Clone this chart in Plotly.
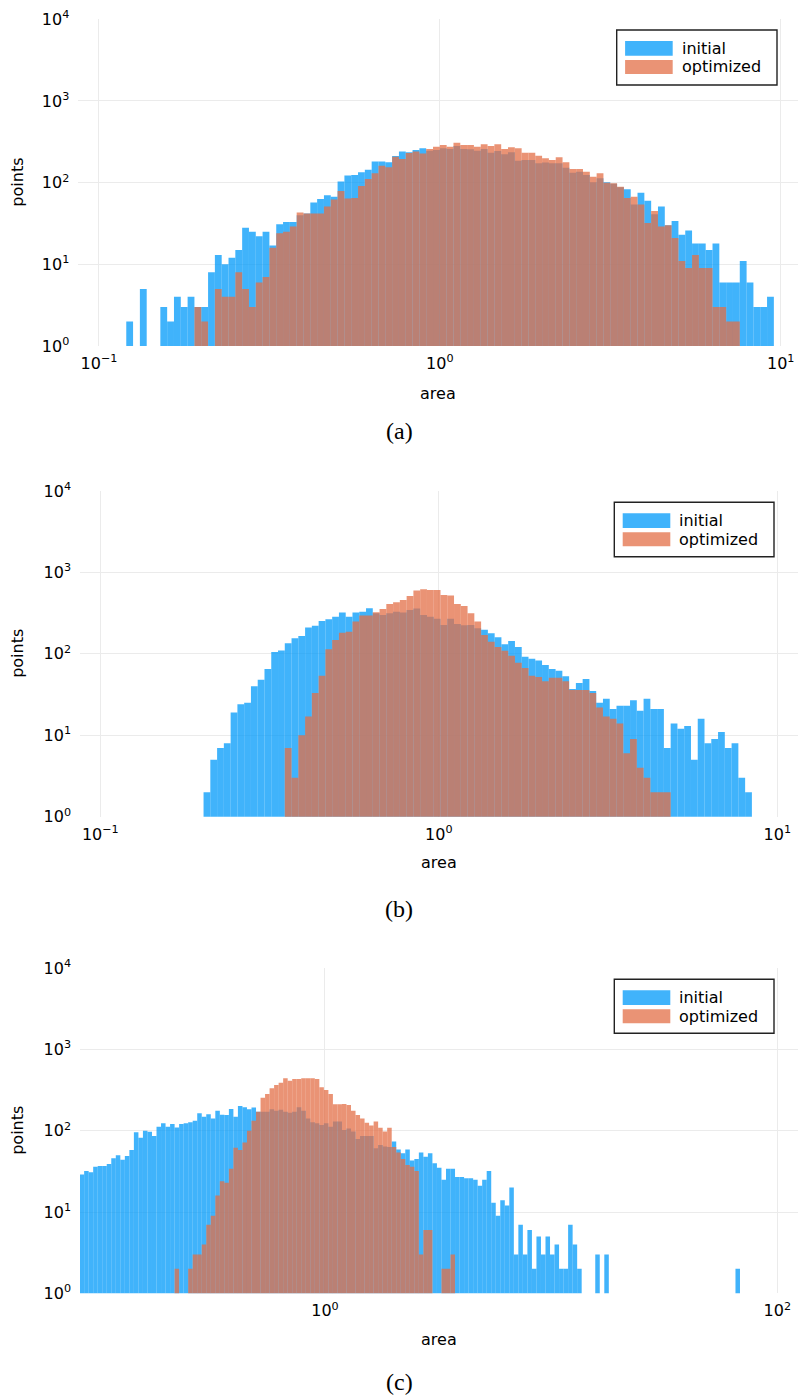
import plotly.graph_objects as go

# ---------------- data (log-spaced histogram bins, 0.02 decade wide) ----------------
BIN_DEX = 0.02

# panel (a)
A_LOG_START = -0.92
A_INITIAL = [2, 0, 5, 0, 0, 3, 2, 4, 3, 4, 3, 3, 8, 13, 10, 12, 15, 28, 25, 22,
             25, 17, 31, 33, 33, 40, 42, 57, 63, 70, 67, 103, 122, 124, 134, 144, 181, 181, 178, 212,
             240, 235, 251, 264, 246, 251, 264, 258, 281, 258, 256, 246, 258, 233, 244, 222, 235, 186, 189, 189,
             173, 176, 173, 173, 152, 132, 136, 124, 101, 113, 101, 97, 88, 83, 54, 75, 60, 41, 51, 30,
             34, 23, 26, 18, 18, 15, 18, 6, 6, 6, 11, 6, 3, 3, 4]
A_OPTIMIZED = [0, 0, 0, 0, 0, 0, 0, 0, 0, 0, 3, 2, 0, 5, 4, 4, 8, 5, 3, 6,
               7, 16, 24, 25, 29, 43, 42, 42, 42, 51, 62, 79, 64, 65, 91, 111, 130, 161, 154, 207,
               195, 230, 240, 228, 258, 276, 289, 276, 309, 289, 289, 276, 295, 282, 295, 258, 271, 264, 233, 233,
               214, 199, 189, 204, 178, 147, 147, 136, 118, 130, 100, 98, 89, 65, 67, 54, 32, 45, 29, 30,
               21, 11, 9, 13, 9, 9, 3, 3, 2, 2, 0, 0, 0, 0, 0]

# panel (b)
B_LOG_START = -0.695
B_INITIAL = [2, 5, 7, 8, 19, 24, 25, 40, 48, 65, 105, 110, 135, 155, 166, 210, 222, 254, 266, 286,
             321, 286, 321, 330, 363, 315, 300, 315, 330, 321, 346, 360, 300, 286, 270, 226, 270, 233, 225, 226,
             206, 197, 179, 160, 131, 144, 121, 92, 87, 83, 73, 65, 62, 53, 37, 44, 49, 35, 25, 28,
             21, 23, 23, 27, 20, 28, 21, 21, 7, 14, 12, 13, 5, 16, 8, 9, 11, 7, 8, 3, 2]
B_OPTIMIZED = [0, 0, 0, 0, 0, 0, 0, 0, 0, 0, 0, 0, 7, 3, 10, 17, 33, 54, 114, 148,
               182, 187, 249, 295, 295, 324, 356, 410, 430, 459, 514, 600, 621, 609, 609, 530, 520, 410, 387, 315,
               249, 171, 141, 121, 109, 95, 78, 67, 54, 52, 46, 51, 51, 46, 36, 36, 36, 33, 22, 17,
               16, 14, 6, 9, 4, 3, 2, 2, 2, 0, 0, 0, 0, 0, 0, 0, 0, 0, 0, 0, 0]

# panel (c)
C_LOG_START = -1.085
C_INITIAL = [29, 32, 31, 36, 37, 37, 39, 46, 50, 44, 49, 58, 96, 82, 100, 97, 86, 112, 124, 112,
             121, 110, 121, 124, 127, 133, 164, 149, 160, 142, 177, 158, 157, 186, 149, 202, 195, 184, 193, 172,
             172, 172, 184, 177, 181, 172, 167, 172, 195, 177, 142, 127, 124, 118, 124, 112, 130, 130, 102, 107,
             98, 79, 86, 86, 86, 61, 67, 64, 63, 74, 59, 53, 59, 43, 45, 54, 48, 53, 40, 35,
             25, 34, 34, 27, 27, 26, 26, 25, 21, 25, 32, 13, 9, 14, 12, 20, 3, 7, 3, 6,
             2, 5, 3, 5, 3, 4, 2, 2, 7, 4, 2, 0, 0, 0, 3, 0, 3, 0, 0, 0,
             0, 0, 0, 0, 0, 0, 0, 0, 0, 0, 0, 0, 0, 0, 0, 0, 0, 0, 0, 0,
             0, 0, 0, 0, 0, 2]
C_OPTIMIZED = [0, 0, 0, 0, 0, 0, 0, 0, 0, 0, 0, 0, 0, 0, 0, 0, 0, 0, 0, 0,
               0, 2, 0, 0, 2, 3, 3, 4, 7, 9, 16, 24, 23, 34, 62, 58, 72, 100, 133, 172,
               256, 284, 333, 366, 391, 442, 414, 434, 434, 442, 442, 442, 434, 343, 318, 284, 212, 212, 214, 208,
               177, 157, 142, 126, 116, 130, 109, 98, 109, 63, 54, 45, 38, 36, 32, 3, 6, 6, 0, 0,
               2, 2, 3, 0, 0, 0, 0, 0, 0, 0, 0, 0, 0, 0, 0, 0, 0, 0, 0, 0,
               0, 0, 0, 0, 0, 0, 0, 0, 0, 0, 0, 0, 0, 0, 0, 0, 0, 0, 0, 0,
               0, 0, 0, 0, 0, 0, 0, 0, 0, 0, 0, 0, 0, 0, 0, 0, 0, 0, 0, 0,
               0, 0, 0, 0, 0, 0]

SERIES_NAMES = ["initial", "optimized"]
Y_TICKVALS = [1, 10, 100, 1000, 10000]
Y_TICKTEXT = ["10<sup>0</sup>", "10<sup>1</sup>", "10<sup>2</sup>", "10<sup>3</sup>", "10<sup>4</sup>"]
AB_X_TICKVALS = [0.1, 1, 10]
AB_X_TICKTEXT = ["10<sup>\u22121</sup>", "10<sup>0</sup>", "10<sup>1</sup>"]
C_X_TICKVALS = [1, 100]
C_X_TICKTEXT = ["10<sup>0</sup>", "10<sup>2</sup>"]
CAPTIONS = ["(a)", "(b)", "(c)"]

# ---------------- style ----------------
W, H = 798, 1395
BLUE = "rgba(0,154,250,0.75)"
ORANGE = "rgba(227,111,71,0.75)"
GRID = "#ebebeb"
SANS = "DejaVu Sans"
SERIF = "Liberation Serif"

def px(x):
    return x / W

def py(y):
    return 1 - y / H

panels = [
    dict(start=A_LOG_START, ini=A_INITIAL, opt=A_OPTIMIZED, xr=[-1.0607, 1.0508], left=78.3,
         top=19.3, bot=346.0, tv=AB_X_TICKVALS, tt=AB_X_TICKTEXT, leg=(616.7, 30.0, 777.0, 85.0),
         title_y=393, cap_y=431),
    dict(start=B_LOG_START, ini=B_INITIAL, opt=B_OPTIMIZED, xr=[-1.06, 1.0612], left=80.0,
         top=491.0, bot=816.7, tv=AB_X_TICKVALS, tt=AB_X_TICKTEXT, leg=(614.3, 502.3, 774.0, 556.7),
         title_y=862, cap_y=909),
    dict(start=C_LOG_START, ini=C_INITIAL, opt=C_OPTIMIZED, xr=[-1.0833, 2.0915], left=80.0,
         top=968.3, bot=1293.3, tv=C_X_TICKVALS, tt=C_X_TICKTEXT, leg=(614.3, 979.3, 774.0, 1033.3),
         title_y=1339, cap_y=1382),
]

fig = go.Figure()
layout = dict(template="none", width=W, height=H, margin=dict(l=0, r=0, t=0, b=0, pad=0, autoexpand=False),
              paper_bgcolor="white", plot_bgcolor="white", barmode="overlay",
              showlegend=False, font=dict(family=SANS, size=16, color="black"))
shapes, annotations = [], []

for i, p in enumerate(panels):
    n = i + 1
    xa = "x" if n == 1 else f"x{n}"
    ya = "y" if n == 1 else f"y{n}"
    for counts, color, name in ((p["ini"], BLUE, SERIES_NAMES[0]), (p["opt"], ORANGE, SERIES_NAMES[1])):
        lefts, widths, ys = [], [], []
        for k, c in enumerate(counts):
            if c <= 0:
                continue
            lo = 10 ** (p["start"] + BIN_DEX * k)
            hi = 10 ** (p["start"] + BIN_DEX * (k + 1))
            lefts.append(lo)
            widths.append(hi - lo)
            ys.append(c)
        fig.add_trace(go.Bar(x=lefts, y=ys, width=widths, offset=0, name=name,
                             marker=dict(color=color, line=dict(width=0)),
                             xaxis=xa, yaxis=ya, showlegend=False))
    xkey = "xaxis" if n == 1 else f"xaxis{n}"
    ykey = "yaxis" if n == 1 else f"yaxis{n}"
    layout[xkey] = dict(type="log", range=p["xr"], domain=[px(p["left"]), 1.0], anchor=ya,
                        tickvals=p["tv"], ticktext=p["tt"], ticks="", showline=False, zeroline=False,
                        showgrid=True, gridcolor=GRID, gridwidth=1, automargin=False,
                        tickfont=dict(family=SANS, size=16, color="black"), ticklabelstandoff=6)
    layout[ykey] = dict(type="log", range=[0, 4], domain=[py(p["bot"]), py(p["top"])], anchor=xa,
                        tickvals=Y_TICKVALS, ticktext=Y_TICKTEXT, ticks="", showline=False, zeroline=False,
                        showgrid=True, gridcolor=GRID, gridwidth=1, automargin=False,
                        tickfont=dict(family=SANS, size=16, color="black"), ticklabelstandoff=8)
    cx = (p["left"] + W) / 2
    annotations.append(dict(text="area", xref="paper", yref="paper", x=px(cx), y=py(p["title_y"]),
                            xanchor="center", yanchor="middle", showarrow=False,
                            font=dict(family=SANS, size=16, color="black")))
    annotations.append(dict(text="points", xref="paper", yref="paper", x=px(18), y=py((p["top"] + p["bot"]) / 2),
                            xanchor="center", yanchor="middle", textangle=-90, showarrow=False,
                            font=dict(family=SANS, size=16, color="black")))
    annotations.append(dict(text=CAPTIONS[i], xref="paper", yref="paper", x=px(399), y=py(p["cap_y"]),
                            xanchor="center", yanchor="middle", showarrow=False,
                            font=dict(family=SERIF, size=24, color="black")))
    x0, y0, x1, y1 = p["leg"]
    shapes.append(dict(type="rect", xref="paper", yref="paper", x0=px(x0), x1=px(x1), y0=py(y1), y1=py(y0),
                       line=dict(color="#222222", width=1.4), fillcolor="white", layer="above"))
    sw_x0, sw_x1 = x0 + 8.4, x0 + 56
    rows = [(y0 + 11, y0 + 25.7, BLUE, SERIES_NAMES[0]), (y0 + 30, y0 + 44, ORANGE, SERIES_NAMES[1])]
    for r0, r1, col, label in rows:
        shapes.append(dict(type="rect", xref="paper", yref="paper", x0=px(sw_x0), x1=px(sw_x1),
                           y0=py(r1), y1=py(r0), line=dict(width=0), fillcolor=col, layer="above"))
        annotations.append(dict(text=label, xref="paper", yref="paper", x=px(x0 + 63), y=py((r0 + r1) / 2),
                                xanchor="left", yanchor="middle", showarrow=False,
                                font=dict(family=SANS, size=16, color="black")))

layout["shapes"] = shapes
layout["annotations"] = annotations
fig.update_layout(**layout)
fig.write_html("out.html")
